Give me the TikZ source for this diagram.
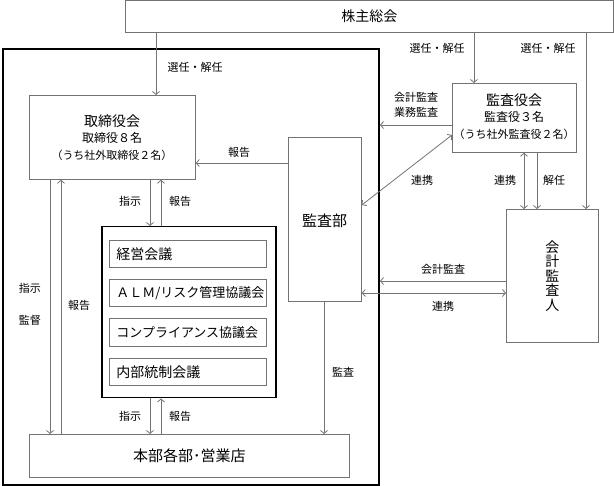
\documentclass[tikz,border=0pt]{standalone}
\usepackage{fontspec}
\setmainfont{Noto Sans CJK JP}
\usetikzlibrary{arrows.meta,calc}
\definecolor{linegray}{gray}{0.45}
\tikzset{
 box/.style={draw=linegray, line width=0.8pt, inner sep=0pt, anchor=north west, align=center},
 subbox/.style={draw=linegray, line width=0.8pt, inner xsep=7pt, inner ysep=0pt, anchor=north west, align=left, text width=143pt, minimum width=157pt},
 arr/.style={draw=linegray, line width=0.8pt, -{Straight Barb[length=3pt,width=7pt]}},
 darr/.style={draw=linegray, line width=0.8pt, {Straight Barb[length=3pt,width=7pt]}-{Straight Barb[length=3pt,width=7pt]}},
 lbl/.style={font=\fontsize{11}{15}\selectfont, inner sep=0pt, align=center},
 txt/.style={inner sep=0pt},
}
\begin{document}
\begin{tikzpicture}[x=1pt,y=-1pt]
\useasboundingbox (0,0) rectangle (614,486);
% outer frame
\node[draw=black, line width=2pt, inner sep=0pt, anchor=north west, minimum width=376pt, minimum height=436pt] (outer) at (2,48.5) {};
% boxes
\node[box, minimum width=488pt, minimum height=31.5pt, font=\fontsize{14}{16}\selectfont] (kabu) at (125,0.5) {株主総会};
\node[box, minimum width=166pt, minimum height=84pt] (tori) at (29,95) {};
\node[txt, font=\fontsize{14}{16}\selectfont] (tori1) at (112,121.5) {取締役会};
\node[txt, font=\fontsize{12}{14}\selectfont] (tori2) at (112,137.5) {取締役８名};
\node[txt, font=\fontsize{11}{13}\selectfont] (tori3) at (112,155) {（うち社外取締役２名）};
\node[box, minimum width=73pt, minimum height=164pt] (kansabu) at (288,137) {};
\node[txt, font=\fontsize{15}{17}\selectfont] (kansabu1) at (324.5,221) {監査部};
\node[box, minimum width=124pt, minimum height=69pt] (kansayaku) at (452,83) {};
\node[txt, font=\fontsize{14}{16}\selectfont] (ky1) at (514,100) {監査役会};
\node[txt, font=\fontsize{12}{14}\selectfont] (ky2) at (514,116.5) {監査役３名};
\node[txt, font=\fontsize{11}{13}\selectfont] (ky3) at (514,134) {（うち社外監査役２名）};
\node[box, minimum width=92pt, minimum height=133pt, font=\fontsize{14}{14.5}\selectfont] (kaikei) at (506,209) {会\\計\\監\\査\\人};
\node[draw=black, line width=1.5pt, inner sep=0pt, anchor=north west, minimum width=174pt, minimum height=171pt] (comm) at (101,226) {};
\node[subbox, minimum height=27pt, font=\fontsize{14}{16}\selectfont] (keiei) at (109,240) {経営会議};
\node[subbox, minimum height=27pt, font=\fontsize{13}{16}\selectfont] (alm) at (109,279) {ＡＬＭ/リスク管理協議会};
\node[subbox, minimum height=28pt, font=\fontsize{13}{16}\selectfont] (comp) at (109,318) {コンプライアンス協議会};
\node[subbox, minimum height=27pt, font=\fontsize{14}{16}\selectfont] (naibu) at (109,358) {内部統制会議};
\node[box, minimum width=320pt, minimum height=43pt, font=\fontsize{15}{17}\selectfont] (honbu) at (29,434) {本部各部･営業店};
% connectors from shareholders
\draw[arr] (156,0 |- kabu.south) -- (156,0 |- tori.north);
\node[lbl] (l1) at (195,67) {選任・解任};
\draw[arr] (474,0 |- kabu.south) -- (474,0 |- kansayaku.north);
\node[lbl] (l2) at (437,48) {選任・解任};
\draw[arr] (586,0 |- kabu.south) -- (586,0 |- kaikei.north);
\node[lbl] (l3) at (548,48) {選任・解任};
% audit dept to board
\draw[arr] (kansabu.west |- 0,163) -- (tori.east |- 0,163);
\node[lbl] (l4) at (239,152) {報告};
% kansayaku to company
\draw[arr] (kansayaku.west |- 0,125) -- (outer.east |- 0,125);
\node[lbl] (l5) at (416,104.5) {会計監査\\業務監査};
\draw[darr] (kansayaku.west |- 0,135) -- (kansabu.east |- 0,205);
\node[lbl] (l6) at (422,180) {連携};
\draw[darr] (524,0 |- kansayaku.south) -- (524,0 |- kaikei.north);
\node[lbl] (l7) at (505,180) {連携};
\draw[arr] (537,0 |- kansayaku.south) -- (537,0 |- kaikei.north);
\node[lbl] (l8) at (554,180) {解任};
% kaikei to company
\draw[arr] (kaikei.west |- 0,281) -- (outer.east |- 0,281);
\node[lbl] (l9) at (443,269) {会計監査};
\draw[darr] (kansabu.east |- 0,293) -- (kaikei.west |- 0,293);
\node[lbl] (l10) at (443,306) {連携};
% audit
\draw[arr] (324,0 |- kansabu.south) -- (324,0 |- honbu.north);
\node[lbl] (l11) at (343,372) {監査};
% board <-> committees
\draw[arr] (150,0 |- tori.south) -- (150,0 |- comm.north);
\draw[arr] (161,0 |- comm.north) -- (161,0 |- tori.south);
\node[lbl] (l12) at (130,201) {指示};
\node[lbl] (l13) at (180,201) {報告};
% committees <-> branches
\draw[arr] (150,0 |- comm.south) -- (150,0 |- honbu.north);
\draw[arr] (161,0 |- honbu.north) -- (161,0 |- comm.south);
\node[lbl] (l14) at (130,416) {指示};
\node[lbl] (l15) at (180,416) {報告};
% board <-> branches
\draw[arr] (50,0 |- tori.south) -- (50,0 |- honbu.north);
\draw[arr] (61,0 |- honbu.north) -- (61,0 |- tori.south);
\node[lbl] (l16) at (30,288) {指示};
\node[lbl] (l17) at (30,320) {監督};
\node[lbl] (l18) at (79,305) {報告};
\end{tikzpicture}
\end{document}
